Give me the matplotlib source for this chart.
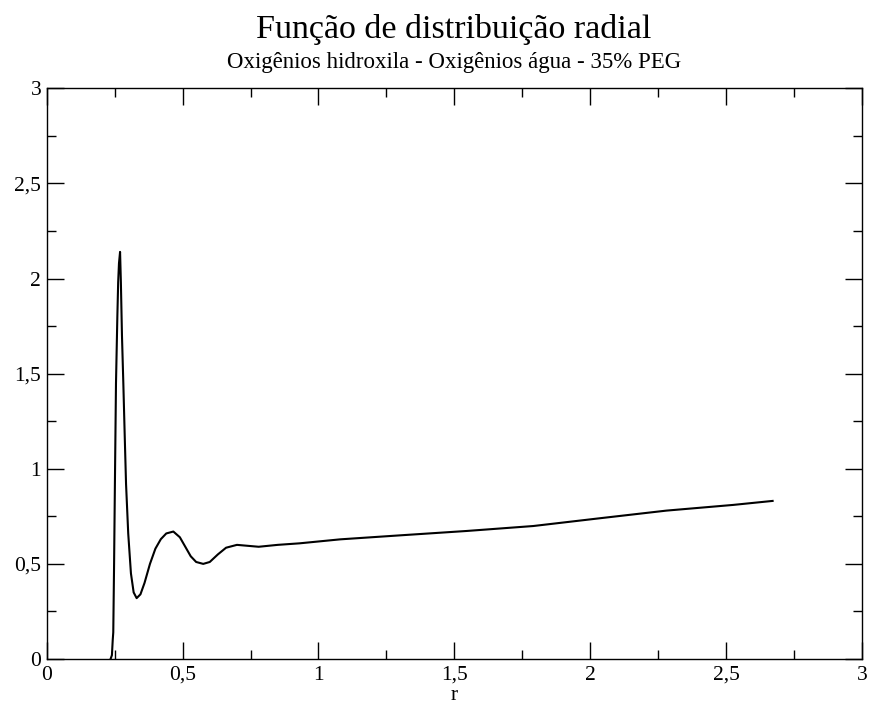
import numpy as np
import matplotlib
matplotlib.use('Agg')
import matplotlib.pyplot as plt
from matplotlib.ticker import MultipleLocator, FuncFormatter

# g(r)
r = [0.235, 0.240, 0.243, 0.245, 0.248, 0.251, 0.255, 0.260, 0.263, 0.266,
     0.270, 0.273, 0.277, 0.282, 0.287, 0.292, 0.300, 0.310, 0.320, 0.331,
     0.345, 0.360, 0.380, 0.400, 0.420, 0.440, 0.466, 0.490, 0.510, 0.530,
     0.550, 0.576, 0.600, 0.630, 0.660, 0.700, 0.740, 0.780, 0.850, 0.930,
     1.080, 1.300, 1.545, 1.790, 2.036, 2.280, 2.526, 2.671]
g = [0.000, 0.020, 0.100, 0.140, 0.500, 0.920, 1.450, 1.800, 1.980, 2.080,
     2.140, 1.980, 1.700, 1.450, 1.180, 0.920, 0.660, 0.450, 0.350, 0.320,
     0.340, 0.400, 0.500, 0.580, 0.630, 0.660, 0.670, 0.640, 0.590, 0.540,
     0.510, 0.500, 0.510, 0.550, 0.585, 0.600, 0.595, 0.590, 0.600, 0.608,
     0.629, 0.650, 0.673, 0.699, 0.740, 0.780, 0.810, 0.831]

title = 'Função de distribuição radial'
subtitle = 'Oxigênios hidroxila - Oxigênios água - 35% PEG'

plt.rcParams['font.family'] = ['Liberation Serif', 'DejaVu Serif']

fig = plt.figure(figsize=(8.71, 7.08), dpi=100)
ax = fig.add_axes([0.0536, 0.0692, 0.9361, 0.8061])

ax.plot(r, g, color='black', lw=1.5)

ax.set_xlim(0, 3)
ax.set_ylim(0, 3)
ax.xaxis.set_major_locator(MultipleLocator(0.5))
ax.xaxis.set_minor_locator(MultipleLocator(0.25))
ax.yaxis.set_major_locator(MultipleLocator(0.5))
ax.yaxis.set_minor_locator(MultipleLocator(0.25))

comma = FuncFormatter(lambda v, p: ('%g' % v).replace('.', ','))
ax.xaxis.set_major_formatter(comma)
ax.yaxis.set_major_formatter(comma)

ax.tick_params(which='both', direction='in', top=True, right=True, width=1.0)
ax.tick_params(which='major', length=12, labelsize=15.5, pad=5)
ax.tick_params(which='minor', length=6.5)
ax.tick_params(axis='y', which='major', pad=4)
for s in ax.spines.values():
    s.set_linewidth(1.0)

ax.set_xlabel('r', fontsize=15.5, labelpad=1)

fig.text(0.5213, 0.9459, title, ha='center', va='baseline', fontsize=24.5)
fig.text(0.5213, 0.9044, subtitle, ha='center', va='baseline', fontsize=16.5)

fig.savefig('out.png', dpi=100)
